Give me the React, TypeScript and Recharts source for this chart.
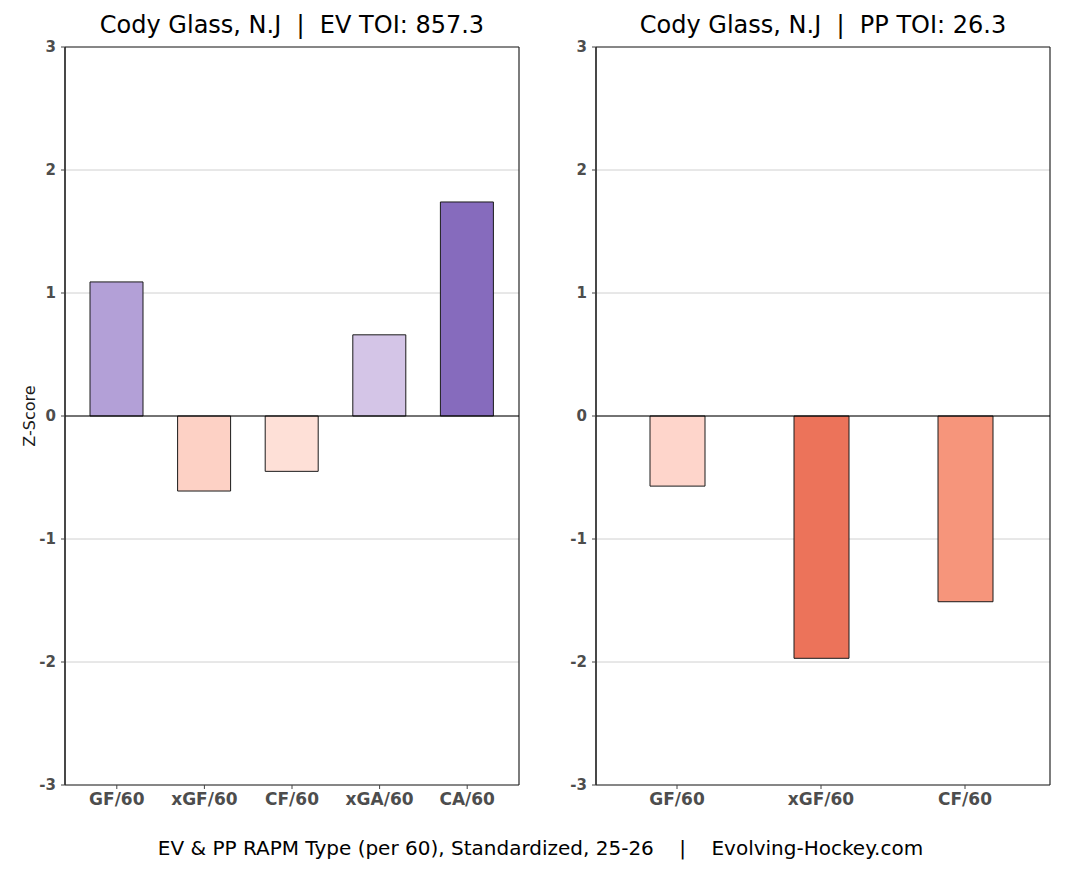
import React from "react";
import { BarChart, Bar, XAxis, YAxis, CartesianGrid, ReferenceLine, Cell } from "recharts";

const evCategories = ["GF/60", "xGF/60", "CF/60", "xGA/60", "CA/60"];
const evValues = [1.09, -0.61, -0.45, 0.66, 1.74];
const evColors = ["#b3a0d7", "#fdd1c5", "#fee0d7", "#d4c5e7", "#866bbd"];

const ppCategories = ["GF/60", "xGF/60", "CF/60"];
const ppValues = [-0.57, -1.97, -1.51];
const ppColors = ["#fed5cb", "#ec735a", "#f6957b"];

const yTicks = [-3, -2, -1, 0, 1, 2, 3];

const evTitle = "Cody Glass, N.J  |  EV TOI: 857.3";
const ppTitle = "Cody Glass, N.J  |  PP TOI: 26.3";
const caption = "EV & PP RAPM Type (per 60), Standardized, 25-26    |    Evolving-Hockey.com";

const FONT = "'DejaVu Sans', sans-serif";
const FRAME = "#262626";

type PanelProps = {
  categories: string[];
  values: number[];
  colors: string[];
  barSize: number;
  padL: number;
  padR: number;
  showYLabel: boolean;
};

function Panel({ categories, values, colors, barSize, padL, padR, showYLabel }: PanelProps) {
  const data = categories.map((c, i) => ({ name: c, value: values[i] }));
  return (
    <BarChart
      width={530}
      height={871}
      data={data}
      margin={{ top: 47, right: 11, left: 0, bottom: 0 }}
      style={{ fontFamily: FONT }}
    >
      <CartesianGrid horizontal={true} vertical={false} stroke="#d0d0d0" strokeWidth={1} />
      <CartesianGrid
        horizontal={false}
        vertical={true}
        stroke={FRAME}
        strokeWidth={1.2}
        verticalCoordinatesGenerator={({ offset }: any) => [offset.left, offset.left + offset.width]}
      />
      <XAxis
        dataKey="name"
        height={86}
        padding={{ left: padL, right: padR }}
        axisLine={{ stroke: FRAME, strokeWidth: 1.2 }}
        tickLine={{ stroke: "#444444" }}
        tickSize={4}
        tickMargin={4}
        tick={{ fill: "#4d4d4d", fontSize: 17, fontWeight: "bold", fontFamily: FONT }}
        interval={0}
      />
      <YAxis
        width={65}
        domain={[-3, 3]}
        ticks={yTicks}
        allowDataOverflow
        axisLine={{ stroke: FRAME, strokeWidth: 1.2 }}
        tickLine={{ stroke: "#444444" }}
        tickSize={4}
        tickMargin={5}
        tick={{ fill: "#4d4d4d", fontSize: 15, fontWeight: "bold", fontFamily: FONT }}
        label={
          showYLabel
            ? {
                value: "Z-Score",
                angle: -90,
                position: "insideLeft",
                offset: 29,
                style: { fill: "#1a1a1a", fontSize: 16, fontFamily: FONT, textAnchor: "middle" },
              }
            : undefined
        }
      />
      <ReferenceLine y={3} stroke={FRAME} strokeWidth={1.2} />
      <ReferenceLine y={0} stroke="#000000" strokeWidth={1.2} />
      <Bar dataKey="value" barSize={barSize} stroke="#1a1a1a" strokeWidth={1} isAnimationActive={false}>
        {data.map((d, i) => (
          <Cell key={d.name} fill={colors[i]} />
        ))}
      </Bar>
    </BarChart>
  );
}

const titleStyle: React.CSSProperties = {
  position: "absolute",
  top: 10,
  width: 454,
  textAlign: "center",
  fontFamily: FONT,
  fontSize: 24,
  color: "#000",
  whiteSpace: "pre",
  lineHeight: "30px",
};

export default function App() {
  return (
    <div
      style={{
        position: "absolute",
        left: 0,
        top: 0,
        width: 1066,
        height: 871,
        background: "#ffffff",
        overflow: "hidden",
      }}
    >
      <div style={{ position: "absolute", left: 0, top: 0 }}>
        <Panel categories={evCategories} values={evValues} colors={evColors} barSize={53} padL={8} padR={8} showYLabel={true} />
      </div>
      <div style={{ position: "absolute", left: 531, top: 0 }}>
        <Panel categories={ppCategories} values={ppValues} colors={ppColors} barSize={55} padL={9} padR={13} showYLabel={false} />
      </div>
      <div style={{ ...titleStyle, left: 65 }}>{evTitle}</div>
      <div style={{ ...titleStyle, left: 596 }}>{ppTitle}</div>
      <div
        style={{
          position: "absolute",
          left: 0,
          top: 833,
          width: 1081,
          textAlign: "center",
          fontFamily: FONT,
          fontSize: 20,
          color: "#000",
          whiteSpace: "pre",
          lineHeight: "30px",
        }}
      >
        {caption}
      </div>
    </div>
  );
}
